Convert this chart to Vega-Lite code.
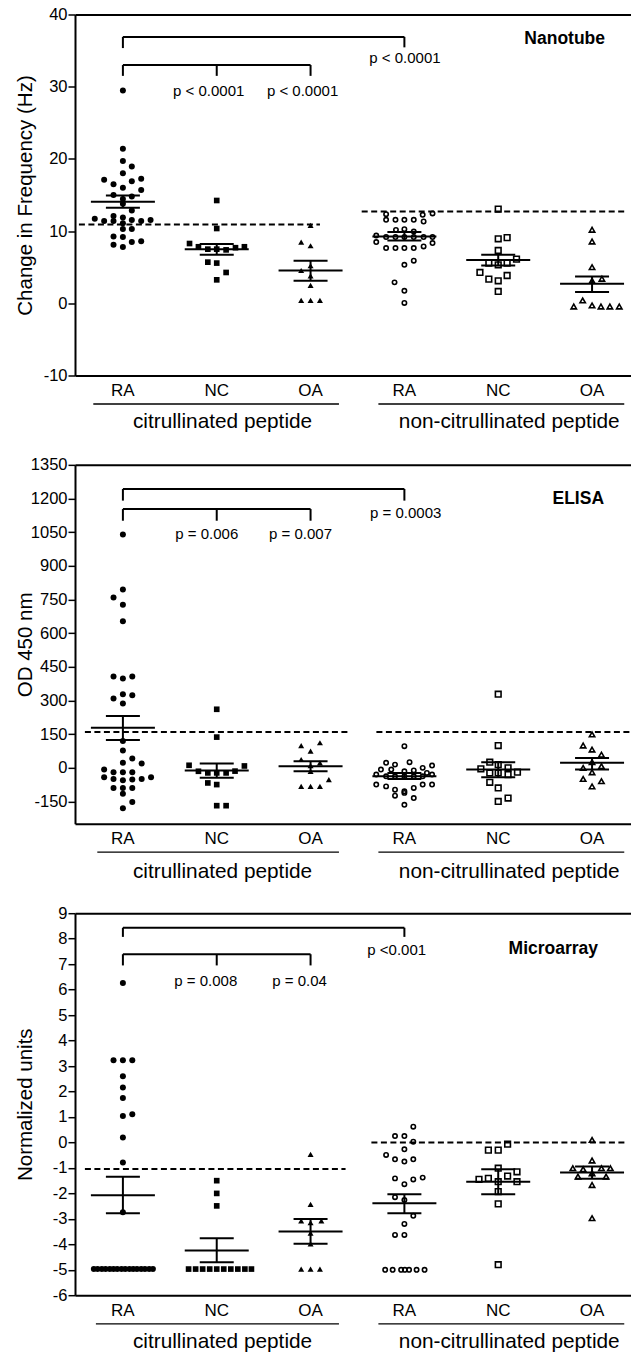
{
"$schema": "https://vega.github.io/schema/vega-lite/v6.json",
"background": "white",
"padding": {"left": 15, "top": 6.5, "right": 0, "bottom": 0},
"spacing": 89.35,
"bounds": "flush",
"config": {
  "font": "Liberation Sans",
  "view": {"stroke": null},
  "axis": {"grid": false, "domainColor": "black", "domainWidth": 2, "tickColor": "black", "tickWidth": 1.5, "tickSize": 7, "labelColor": "black", "labelFont": "Liberation Sans", "labelFontSize": 16.5, "titleColor": "black", "titleFont": "Liberation Sans", "titleFontSize": 20.5, "titleFontWeight": "normal"},
  "axisX": {"ticks": false, "labelPadding": 7, "labelFontSize": 17, "labelAngle": 0},
  "text": {"font": "Liberation Sans", "color": "black"}
},
"datasets": {
"pts": [
{"p":1,"g":"cRA","v":29.47,"j":0},{"p":1,"g":"cRA","v":21.4,"j":0},{"p":1,"g":"cRA","v":19.7,"j":0},{"p":1,"g":"cRA","v":18.95,"j":0.19},{"p":1,"g":"cRA","v":18.0,"j":0},{"p":1,"g":"cRA","v":17.1,"j":-0.4},{"p":1,"g":"cRA","v":16.5,"j":-0.2},{"p":1,"g":"cRA","v":16.9,"j":0.19},{"p":1,"g":"cRA","v":17.25,"j":0.39},{"p":1,"g":"cRA","v":16.0,"j":0},{"p":1,"g":"cRA","v":15.7,"j":0.39},{"p":1,"g":"cRA","v":15.0,"j":-0.2},{"p":1,"g":"cRA","v":14.8,"j":0.19},{"p":1,"g":"cRA","v":14.45,"j":0},{"p":1,"g":"cRA","v":13.8,"j":0},{"p":1,"g":"cRA","v":12.85,"j":0.19},{"p":1,"g":"cRA","v":12.1,"j":-0.2},{"p":1,"g":"cRA","v":11.9,"j":0},{"p":1,"g":"cRA","v":11.7,"j":-0.6},{"p":1,"g":"cRA","v":11.4,"j":-0.4},{"p":1,"g":"cRA","v":11.4,"j":-0.2},{"p":1,"g":"cRA","v":11.55,"j":0.19},{"p":1,"g":"cRA","v":11.4,"j":0.39},{"p":1,"g":"cRA","v":11.55,"j":0.59},{"p":1,"g":"cRA","v":11.1,"j":0},{"p":1,"g":"cRA","v":10.3,"j":0.19},{"p":1,"g":"cRA","v":10.3,"j":0},{"p":1,"g":"cRA","v":9.25,"j":-0.2},{"p":1,"g":"cRA","v":9.2,"j":0},{"p":1,"g":"cRA","v":8.5,"j":0.19},{"p":1,"g":"cRA","v":8.6,"j":0.39},{"p":1,"g":"cRA","v":8.1,"j":-0.2},{"p":1,"g":"cRA","v":7.8,"j":0},
{"p":1,"g":"cNC","v":14.24,"j":0},{"p":1,"g":"cNC","v":10.36,"j":0},{"p":1,"g":"cNC","v":8.28,"j":-0.58},{"p":1,"g":"cNC","v":7.83,"j":-0.39},{"p":1,"g":"cNC","v":7.5,"j":-0.19},{"p":1,"g":"cNC","v":7.5,"j":0},{"p":1,"g":"cNC","v":7.4,"j":0.2},{"p":1,"g":"cNC","v":7.7,"j":0.4},{"p":1,"g":"cNC","v":7.83,"j":0.59},{"p":1,"g":"cNC","v":5.7,"j":-0.19},{"p":1,"g":"cNC","v":5.57,"j":0},{"p":1,"g":"cNC","v":4.27,"j":0.2},{"p":1,"g":"cNC","v":3.25,"j":0},
{"p":1,"g":"cOA","v":10.78,"j":0},{"p":1,"g":"cOA","v":8.48,"j":-0.2},{"p":1,"g":"cOA","v":7.97,"j":0},{"p":1,"g":"cOA","v":5.2,"j":0},{"p":1,"g":"cOA","v":4.54,"j":-0.2},{"p":1,"g":"cOA","v":3.8,"j":0},{"p":1,"g":"cOA","v":2.47,"j":0},{"p":1,"g":"cOA","v":0.4,"j":-0.2},{"p":1,"g":"cOA","v":0.4,"j":0},{"p":1,"g":"cOA","v":0.4,"j":0.2},
{"p":1,"g":"nRA","v":12.35,"j":-0.39},{"p":1,"g":"nRA","v":12.44,"j":0.6},{"p":1,"g":"nRA","v":12.26,"j":0.39},{"p":1,"g":"nRA","v":11.56,"j":-0.39},{"p":1,"g":"nRA","v":11.56,"j":-0.19},{"p":1,"g":"nRA","v":11.56,"j":0},{"p":1,"g":"nRA","v":11.56,"j":0.2},{"p":1,"g":"nRA","v":11.33,"j":0.41},{"p":1,"g":"nRA","v":10.17,"j":-0.18},{"p":1,"g":"nRA","v":10.27,"j":0},{"p":1,"g":"nRA","v":9.94,"j":0.2},{"p":1,"g":"nRA","v":9.39,"j":-0.6},{"p":1,"g":"nRA","v":9.17,"j":-0.39},{"p":1,"g":"nRA","v":9.17,"j":-0.19},{"p":1,"g":"nRA","v":9.17,"j":0},{"p":1,"g":"nRA","v":9.17,"j":0.2},{"p":1,"g":"nRA","v":9.17,"j":0.41},{"p":1,"g":"nRA","v":9.17,"j":0.6},{"p":1,"g":"nRA","v":8.48,"j":-0.6},{"p":1,"g":"nRA","v":7.65,"j":-0.39},{"p":1,"g":"nRA","v":7.65,"j":-0.19},{"p":1,"g":"nRA","v":7.65,"j":0},{"p":1,"g":"nRA","v":7.65,"j":0.2},{"p":1,"g":"nRA","v":7.87,"j":0.41},{"p":1,"g":"nRA","v":8.34,"j":0.6},{"p":1,"g":"nRA","v":5.9,"j":0.2},{"p":1,"g":"nRA","v":5.33,"j":0},{"p":1,"g":"nRA","v":2.9,"j":-0.21},{"p":1,"g":"nRA","v":1.73,"j":0},{"p":1,"g":"nRA","v":0.05,"j":0},
{"p":1,"g":"nNC","v":13.05,"j":0},{"p":1,"g":"nNC","v":8.93,"j":0},{"p":1,"g":"nNC","v":9.1,"j":0.19},{"p":1,"g":"nNC","v":7.32,"j":0},{"p":1,"g":"nNC","v":6.12,"j":0.39},{"p":1,"g":"nNC","v":5.57,"j":-0.2},{"p":1,"g":"nNC","v":5.33,"j":0},{"p":1,"g":"nNC","v":5.57,"j":0.19},{"p":1,"g":"nNC","v":4.27,"j":-0.39},{"p":1,"g":"nNC","v":3.35,"j":-0.2},{"p":1,"g":"nNC","v":3.12,"j":0},{"p":1,"g":"nNC","v":3.85,"j":0.19},{"p":1,"g":"nNC","v":1.64,"j":0},
{"p":1,"g":"nOA","v":10.18,"j":0},{"p":1,"g":"nOA","v":8.56,"j":0},{"p":1,"g":"nOA","v":5.01,"j":0},{"p":1,"g":"nOA","v":3.4,"j":0.21},{"p":1,"g":"nOA","v":3.12,"j":0},{"p":1,"g":"nOA","v":-0.45,"j":-0.39},{"p":1,"g":"nOA","v":0.4,"j":-0.2},{"p":1,"g":"nOA","v":-0.3,"j":0},{"p":1,"g":"nOA","v":-0.45,"j":0.19},{"p":1,"g":"nOA","v":-0.45,"j":0.38},{"p":1,"g":"nOA","v":-0.45,"j":0.58},
{"p":2,"g":"cRA","v":1039.7,"j":0},{"p":2,"g":"cRA","v":794.8,"j":0},{"p":2,"g":"cRA","v":759,"j":-0.2},{"p":2,"g":"cRA","v":726,"j":0},{"p":2,"g":"cRA","v":653,"j":0},{"p":2,"g":"cRA","v":407,"j":-0.2},{"p":2,"g":"cRA","v":398,"j":0},{"p":2,"g":"cRA","v":407,"j":0.2},{"p":2,"g":"cRA","v":308.5,"j":-0.2},{"p":2,"g":"cRA","v":286,"j":0},{"p":2,"g":"cRA","v":327.8,"j":0},{"p":2,"g":"cRA","v":323,"j":0.2},{"p":2,"g":"cRA","v":118.7,"j":0},{"p":2,"g":"cRA","v":77,"j":0},{"p":2,"g":"cRA","v":41,"j":0.2},{"p":2,"g":"cRA","v":22,"j":0},{"p":2,"g":"cRA","v":19,"j":0.4},{"p":2,"g":"cRA","v":-8,"j":-0.4},{"p":2,"g":"cRA","v":-20,"j":-0.2},{"p":2,"g":"cRA","v":-20,"j":0},{"p":2,"g":"cRA","v":-20,"j":0.2},{"p":2,"g":"cRA","v":-42.5,"j":-0.4},{"p":2,"g":"cRA","v":-50,"j":-0.2},{"p":2,"g":"cRA","v":-56,"j":0},{"p":2,"g":"cRA","v":-52,"j":0.2},{"p":2,"g":"cRA","v":-50,"j":0.4},{"p":2,"g":"cRA","v":-42.5,"j":0.6},{"p":2,"g":"cRA","v":-90,"j":-0.2},{"p":2,"g":"cRA","v":-90,"j":0},{"p":2,"g":"cRA","v":-90,"j":0.2},{"p":2,"g":"cRA","v":-115.6,"j":0},{"p":2,"g":"cRA","v":-153,"j":0.2},{"p":2,"g":"cRA","v":-180,"j":0},
{"p":2,"g":"cNC","v":260.6,"j":0},{"p":2,"g":"cNC","v":136.6,"j":0},{"p":2,"g":"cNC","v":11,"j":-0.59},{"p":2,"g":"cNC","v":-15.7,"j":-0.39},{"p":2,"g":"cNC","v":-23,"j":-0.19},{"p":2,"g":"cNC","v":-23,"j":0},{"p":2,"g":"cNC","v":-23,"j":0.2},{"p":2,"g":"cNC","v":-15,"j":0.39},{"p":2,"g":"cNC","v":8,"j":0.59},{"p":2,"g":"cNC","v":-67.7,"j":-0.19},{"p":2,"g":"cNC","v":-75,"j":0},{"p":2,"g":"cNC","v":-169,"j":0},{"p":2,"g":"cNC","v":-169,"j":0.2},
{"p":2,"g":"cOA","v":111.4,"j":0.2},{"p":2,"g":"cOA","v":73.8,"j":0},{"p":2,"g":"cOA","v":99,"j":-0.2},{"p":2,"g":"cOA","v":36.7,"j":-0.2},{"p":2,"g":"cOA","v":9.8,"j":0},{"p":2,"g":"cOA","v":22,"j":0.2},{"p":2,"g":"cOA","v":-15.8,"j":0},{"p":2,"g":"cOA","v":-53,"j":0.39},{"p":2,"g":"cOA","v":-83,"j":-0.2},{"p":2,"g":"cOA","v":-83,"j":0},{"p":2,"g":"cOA","v":-83,"j":0.2},
{"p":2,"g":"nRA","v":96,"j":0},{"p":2,"g":"nRA","v":22,"j":-0.39},{"p":2,"g":"nRA","v":14,"j":-0.2},{"p":2,"g":"nRA","v":24.6,"j":0.11},{"p":2,"g":"nRA","v":-0.5,"j":0.39},{"p":2,"g":"nRA","v":10,"j":0.59},{"p":2,"g":"nRA","v":-8,"j":-0.5},{"p":2,"g":"nRA","v":-8,"j":-0.28},{"p":2,"g":"nRA","v":-15.7,"j":0},{"p":2,"g":"nRA","v":-12,"j":0.2},{"p":2,"g":"nRA","v":-23,"j":0.48},{"p":2,"g":"nRA","v":-30.5,"j":-0.6},{"p":2,"g":"nRA","v":-38,"j":-0.39},{"p":2,"g":"nRA","v":-38,"j":-0.2},{"p":2,"g":"nRA","v":-38,"j":0},{"p":2,"g":"nRA","v":-38,"j":0.2},{"p":2,"g":"nRA","v":-38,"j":0.39},{"p":2,"g":"nRA","v":-30.5,"j":0.59},{"p":2,"g":"nRA","v":-75,"j":-0.6},{"p":2,"g":"nRA","v":-83,"j":-0.39},{"p":2,"g":"nRA","v":-98,"j":-0.2},{"p":2,"g":"nRA","v":-105,"j":0},{"p":2,"g":"nRA","v":-90,"j":0.2},{"p":2,"g":"nRA","v":-75,"j":0.39},{"p":2,"g":"nRA","v":-75,"j":0.59},{"p":2,"g":"nRA","v":-124.5,"j":-0.2},{"p":2,"g":"nRA","v":-112,"j":0},{"p":2,"g":"nRA","v":-135,"j":0.2},{"p":2,"g":"nRA","v":-165,"j":0},
{"p":2,"g":"nNC","v":327.8,"j":0},{"p":2,"g":"nNC","v":99,"j":0},{"p":2,"g":"nNC","v":24.6,"j":-0.18},{"p":2,"g":"nNC","v":-5,"j":-0.37},{"p":2,"g":"nNC","v":14,"j":0},{"p":2,"g":"nNC","v":-0.5,"j":0.21},{"p":2,"g":"nNC","v":-23,"j":-0.18},{"p":2,"g":"nNC","v":-23,"j":0},{"p":2,"g":"nNC","v":-30.5,"j":0.21},{"p":2,"g":"nNC","v":-20,"j":0.41},{"p":2,"g":"nNC","v":-65,"j":-0.18},{"p":2,"g":"nNC","v":-90,"j":0},{"p":2,"g":"nNC","v":-150,"j":0},{"p":2,"g":"nNC","v":-135,"j":0.21},
{"p":2,"g":"nOA","v":148.6,"j":0},{"p":2,"g":"nOA","v":99,"j":-0.19},{"p":2,"g":"nOA","v":81,"j":0},{"p":2,"g":"nOA","v":58.6,"j":0.2},{"p":2,"g":"nOA","v":-0.5,"j":-0.19},{"p":2,"g":"nOA","v":24.6,"j":0},{"p":2,"g":"nOA","v":7,"j":0.2},{"p":2,"g":"nOA","v":-20,"j":0},{"p":2,"g":"nOA","v":-50,"j":-0.19},{"p":2,"g":"nOA","v":-60,"j":0.2},{"p":2,"g":"nOA","v":-83,"j":0},
{"p":3,"g":"cRA","v":6.26,"j":0},{"p":3,"g":"cRA","v":3.23,"j":-0.2},{"p":3,"g":"cRA","v":3.23,"j":0},{"p":3,"g":"cRA","v":3.23,"j":0.2},{"p":3,"g":"cRA","v":2.6,"j":0},{"p":3,"g":"cRA","v":2.16,"j":0},{"p":3,"g":"cRA","v":1.75,"j":0},{"p":3,"g":"cRA","v":1.04,"j":0},{"p":3,"g":"cRA","v":1.11,"j":0.2},{"p":3,"g":"cRA","v":0.19,"j":0},{"p":3,"g":"cRA","v":-0.79,"j":0},{"p":3,"g":"cRA","v":-2.74,"j":0},
{"p":3,"g":"cRA","v":-4.97,"j":-0.62},{"p":3,"g":"cRA","v":-4.97,"j":-0.54},{"p":3,"g":"cRA","v":-4.97,"j":-0.45},{"p":3,"g":"cRA","v":-4.97,"j":-0.37},{"p":3,"g":"cRA","v":-4.97,"j":-0.28},{"p":3,"g":"cRA","v":-4.97,"j":-0.2},{"p":3,"g":"cRA","v":-4.97,"j":-0.12},{"p":3,"g":"cRA","v":-4.97,"j":-0.03},{"p":3,"g":"cRA","v":-4.97,"j":0.05},{"p":3,"g":"cRA","v":-4.97,"j":0.14},{"p":3,"g":"cRA","v":-4.97,"j":0.22},{"p":3,"g":"cRA","v":-4.97,"j":0.3},{"p":3,"g":"cRA","v":-4.97,"j":0.39},{"p":3,"g":"cRA","v":-4.97,"j":0.47},{"p":3,"g":"cRA","v":-4.97,"j":0.56},{"p":3,"g":"cRA","v":-4.97,"j":0.64},
{"p":3,"g":"cNC","v":-1.5,"j":0},{"p":3,"g":"cNC","v":-2.0,"j":0},{"p":3,"g":"cNC","v":-2.49,"j":0},
{"p":3,"g":"cNC","v":-4.97,"j":-0.6},{"p":3,"g":"cNC","v":-4.97,"j":-0.45},{"p":3,"g":"cNC","v":-4.97,"j":-0.3},{"p":3,"g":"cNC","v":-4.97,"j":-0.15},{"p":3,"g":"cNC","v":-4.97,"j":0},{"p":3,"g":"cNC","v":-4.97,"j":0.15},{"p":3,"g":"cNC","v":-4.97,"j":0.3},{"p":3,"g":"cNC","v":-4.97,"j":0.45},{"p":3,"g":"cNC","v":-4.97,"j":0.6},{"p":3,"g":"cNC","v":-4.97,"j":0.74},
{"p":3,"g":"cOA","v":-0.47,"j":0},{"p":3,"g":"cOA","v":-2.43,"j":0},{"p":3,"g":"cOA","v":-3.08,"j":-0.2},{"p":3,"g":"cOA","v":-3.15,"j":0},{"p":3,"g":"cOA","v":-3.08,"j":0.23},{"p":3,"g":"cOA","v":-3.56,"j":0},{"p":3,"g":"cOA","v":-3.98,"j":0},{"p":3,"g":"cOA","v":-4.97,"j":-0.2},{"p":3,"g":"cOA","v":-4.97,"j":0},{"p":3,"g":"cOA","v":-4.97,"j":0.2},
{"p":3,"g":"nRA","v":0.62,"j":0.19},{"p":3,"g":"nRA","v":0.25,"j":-0.2},{"p":3,"g":"nRA","v":0.25,"j":0},{"p":3,"g":"nRA","v":0.03,"j":0.19},{"p":3,"g":"nRA","v":-0.27,"j":0},{"p":3,"g":"nRA","v":-0.49,"j":-0.39},{"p":3,"g":"nRA","v":-0.66,"j":-0.2},{"p":3,"g":"nRA","v":-0.75,"j":0},{"p":3,"g":"nRA","v":-0.66,"j":0.19},{"p":3,"g":"nRA","v":-1.41,"j":-0.2},{"p":3,"g":"nRA","v":-1.64,"j":0},{"p":3,"g":"nRA","v":-1.45,"j":0.19},{"p":3,"g":"nRA","v":-1.38,"j":0.39},{"p":3,"g":"nRA","v":-2.15,"j":-0.2},{"p":3,"g":"nRA","v":-2.26,"j":0},{"p":3,"g":"nRA","v":-2.88,"j":0.19},{"p":3,"g":"nRA","v":-3.2,"j":0},{"p":3,"g":"nRA","v":-3.63,"j":-0.2},{"p":3,"g":"nRA","v":-3.63,"j":0},
{"p":3,"g":"nRA","v":-5,"j":-0.41},{"p":3,"g":"nRA","v":-5,"j":-0.25},{"p":3,"g":"nRA","v":-5,"j":-0.07},{"p":3,"g":"nRA","v":-5,"j":0.01},{"p":3,"g":"nRA","v":-5,"j":0.1},{"p":3,"g":"nRA","v":-5,"j":0.26},{"p":3,"g":"nRA","v":-5,"j":0.43},
{"p":3,"g":"nNC","v":-0.07,"j":0.2},{"p":3,"g":"nNC","v":-0.3,"j":-0.21},{"p":3,"g":"nNC","v":-0.3,"j":0},{"p":3,"g":"nNC","v":-1.01,"j":0},{"p":3,"g":"nNC","v":-1.15,"j":0.4},{"p":3,"g":"nNC","v":-1.45,"j":-0.41},{"p":3,"g":"nNC","v":-1.41,"j":-0.21},{"p":3,"g":"nNC","v":-1.32,"j":0.2},{"p":3,"g":"nNC","v":-1.54,"j":0.4},{"p":3,"g":"nNC","v":-1.54,"j":0},{"p":3,"g":"nNC","v":-1.93,"j":0},{"p":3,"g":"nNC","v":-2.41,"j":0},{"p":3,"g":"nNC","v":-4.8,"j":0},
{"p":3,"g":"nOA","v":0.1,"j":0},{"p":3,"g":"nOA","v":-0.71,"j":0},{"p":3,"g":"nOA","v":-1.01,"j":-0.41},{"p":3,"g":"nOA","v":-1.05,"j":-0.19},{"p":3,"g":"nOA","v":-1.01,"j":0.2},{"p":3,"g":"nOA","v":-1.01,"j":0.39},{"p":3,"g":"nOA","v":-1.21,"j":0},{"p":3,"g":"nOA","v":-1.34,"j":-0.3},{"p":3,"g":"nOA","v":-1.34,"j":0.3},{"p":3,"g":"nOA","v":-1.67,"j":0},{"p":3,"g":"nOA","v":-2.97,"j":0}
],
"stats": [
{"p":1,"g":"cRA","m":14.05,"lo":13.23,"hi":14.93},{"p":1,"g":"cNC","m":7.5,"lo":6.72,"hi":8.2},{"p":1,"g":"cOA","m":4.55,"lo":3.12,"hi":5.89},{"p":1,"g":"nRA","m":9.25,"lo":8.7,"hi":9.86},{"p":1,"g":"nNC","m":6.0,"lo":5.24,"hi":6.72},{"p":1,"g":"nOA","m":2.7,"lo":1.55,"hi":3.72},
{"p":2,"g":"cRA","m":178.4,"lo":123.3,"hi":230.6},{"p":2,"g":"cNC","m":-12.6,"lo":-45,"hi":18.6},{"p":2,"g":"cOA","m":6.7,"lo":-15.7,"hi":29},{"p":2,"g":"nRA","m":-38,"lo":-50,"hi":-23},{"p":2,"g":"nNC","m":-8,"lo":-42.5,"hi":24.6},{"p":2,"g":"nOA","m":22,"lo":-8,"hi":44},
{"p":3,"g":"cRA","m":-2.07,"lo":-2.78,"hi":-1.35},{"p":3,"g":"cNC","m":-4.24,"lo":-4.7,"hi":-3.76},{"p":3,"g":"cOA","m":-3.5,"lo":-3.98,"hi":-3.0},{"p":3,"g":"nRA","m":-2.39,"lo":-2.78,"hi":-2.03},{"p":3,"g":"nNC","m":-1.54,"lo":-2.03,"hi":-1.05},{"p":3,"g":"nOA","m":-1.18,"lo":-1.42,"hi":-0.94}
],
"hbr": [
{"p":1,"a":"cRA","b":"nRA","y":36.9},{"p":1,"a":"cRA","b":"cOA","y":33.0},
{"p":2,"a":"cRA","b":"nRA","y":1242.5},{"p":2,"a":"cRA","b":"cOA","y":1153},
{"p":3,"a":"cRA","b":"nRA","y":8.43},{"p":3,"a":"cRA","b":"cOA","y":7.39}
],
"vbr": [
{"p":1,"g":"cRA","y1":35.35,"y2":36.9},{"p":1,"g":"nRA","y1":35.45,"y2":36.9},{"p":1,"g":"cRA","y1":31.5,"y2":33.0},{"p":1,"g":"cNC","y1":31.5,"y2":33.0},{"p":1,"g":"cOA","y1":31.5,"y2":33.0},
{"p":2,"g":"cRA","y1":1190.6,"y2":1242.5},{"p":2,"g":"nRA","y1":1190.6,"y2":1242.5},{"p":2,"g":"cRA","y1":1101,"y2":1153},{"p":2,"g":"cNC","y1":1101,"y2":1153},{"p":2,"g":"cOA","y1":1101,"y2":1153},
{"p":3,"g":"cRA","y1":8.07,"y2":8.43},{"p":3,"g":"nRA","y1":8.07,"y2":8.43},{"p":3,"g":"cRA","y1":6.95,"y2":7.39},{"p":3,"g":"cNC","y1":6.95,"y2":7.39},{"p":3,"g":"cOA","y1":6.95,"y2":7.39}
],
"ptxt": [
{"p":1,"g":"cNC","y":29.47,"t":"p < 0.0001"},{"p":1,"g":"cOA","y":29.47,"t":"p < 0.0001"},{"p":1,"g":"nRA","y":33.96,"t":"p < 0.0001"},
{"p":2,"g":"cNC","y":1044,"t":"p = 0.006"},{"p":2,"g":"cOA","y":1044,"t":"p = 0.007"},{"p":2,"g":"nRA","y":1133.7,"t":"p = 0.0003"},
{"p":3,"g":"cNC","y":6.34,"t":"p = 0.008"},{"p":3,"g":"cOA","y":6.34,"t":"p = 0.04"},{"p":3,"g":"nRA","y":7.54,"t":"p <0.001"}
]
},
"vconcat": [
{
"width": 556, "height": 361,
"resolve": {"axis": {"x": "independent", "y": "independent"}},
"layer": [
{"data": {"name": "pts"}, "transform": [{"filter": "datum.p==1"}],
 "mark": {"type": "point", "filled": true, "stroke": "black", "opacity": 1},
 "encoding": {
  "x": {"field": "g", "type": "nominal", "scale": {"domain":["cRA","cNC","cOA","nRA","nNC","nOA"],"paddingInner":0.1698,"paddingOuter":0.0477,"align":1}, "axis": {"orient": "bottom", "title": null, "labelExpr": "substring(datum.label,1)"}},
  "xOffset": {"field": "j", "type": "quantitative", "scale": {"domain": [-1, 1], "range": [-7.95, 85.85]}},
  "y": {"field": "v", "type": "quantitative", "scale": {"domain": [-10, 40], "nice": false, "zero": false}, "axis": {"title": "Change in Frequency (Hz)", "values": [-10,0,10,20,30,40], "labelExpr": "''+datum.value", "labelPadding": 1, "titleX": -50, "titleBaseline": "middle"}},
  "shape": {"field": "g", "type": "nominal", "scale": {"domain":["cRA","cNC","cOA","nRA","nNC","nOA"], "range": ["circle","square","triangle-up","circle","square","triangle-up"]}, "legend": null},
  "fill": {"field": "g", "type": "nominal", "scale": {"domain":["cRA","cNC","cOA","nRA","nNC","nOA"], "range": ["black","black","black","transparent","transparent","transparent"]}, "legend": null},
  "size": {"field": "g", "type": "nominal", "scale": {"type": "ordinal", "domain":["cRA","cNC","cOA","nRA","nNC","nOA"], "range": [36,32,36,19,32,29]}, "legend": null},
  "strokeWidth": {"field": "g", "type": "nominal", "scale": {"type": "ordinal", "domain":["cRA","cNC","cOA","nRA","nNC","nOA"], "range": [0,0,0,1.6,1.6,1.6]}, "legend": null}
 }},
{"data": {"name": "stats"}, "transform": [{"filter": "datum.p==1"}],
 "mark": {"type": "tick", "color": "black", "size": 64, "thickness": 2, "opacity": 1},
 "encoding": {"x": {"field": "g", "type": "nominal", "scale": {"domain":["cRA","cNC","cOA","nRA","nNC","nOA"],"paddingInner":0.1698,"paddingOuter":0.0477,"align":1}, "axis": null},
  "y": {"field": "m", "type": "quantitative", "scale": {"domain": [-10, 40], "nice": false, "zero": false}, "axis": null}}},
{"data": {"name": "stats"}, "transform": [{"filter": "datum.p==1"}],
 "mark": {"type": "tick", "color": "black", "size": 34, "thickness": 2, "opacity": 1},
 "encoding": {"x": {"field": "g", "type": "nominal", "scale": {"domain":["cRA","cNC","cOA","nRA","nNC","nOA"],"paddingInner":0.1698,"paddingOuter":0.0477,"align":1}, "axis": null},
  "y": {"field": "lo", "type": "quantitative", "scale": {"domain": [-10, 40], "nice": false, "zero": false}, "axis": null}}},
{"data": {"name": "stats"}, "transform": [{"filter": "datum.p==1"}],
 "mark": {"type": "tick", "color": "black", "size": 34, "thickness": 2, "opacity": 1},
 "encoding": {"x": {"field": "g", "type": "nominal", "scale": {"domain":["cRA","cNC","cOA","nRA","nNC","nOA"],"paddingInner":0.1698,"paddingOuter":0.0477,"align":1}, "axis": null},
  "y": {"field": "hi", "type": "quantitative", "scale": {"domain": [-10, 40], "nice": false, "zero": false}, "axis": null}}},
{"data": {"name": "stats"}, "transform": [{"filter": "datum.p==1"}],
 "mark": {"type": "rule", "color": "black", "strokeWidth": 2},
 "encoding": {"x": {"field": "g", "type": "nominal", "scale": {"domain":["cRA","cNC","cOA","nRA","nNC","nOA"],"paddingInner":0.1698,"paddingOuter":0.0477,"align":1}, "axis": null},
  "y": {"field": "lo", "type": "quantitative", "scale": {"domain": [-10, 40], "nice": false, "zero": false}, "axis": null}, "y2": {"field": "hi"}}},
{"data": {"values": [{}]},
 "mark": {"type": "rule", "color": "black", "strokeWidth": 2, "strokeDash": [6, 3.5], "xOffset": -44, "x2Offset": 9.4},
 "encoding": {"x": {"datum": "cRA", "type": "nominal", "scale": {"domain":["cRA","cNC","cOA","nRA","nNC","nOA"],"paddingInner":0.1698,"paddingOuter":0.0477,"align":1}, "axis": null}, "x2": {"datum": "cOA"},
  "y": {"datum": 10.9, "type": "quantitative", "scale": {"domain": [-10, 40], "nice": false, "zero": false}, "axis": null}}},
{"data": {"values": [{}]},
 "mark": {"type": "rule", "color": "black", "strokeWidth": 2, "strokeDash": [6, 3.5], "xOffset": -42.7, "x2Offset": 34},
 "encoding": {"x": {"datum": "nRA", "type": "nominal", "scale": {"domain":["cRA","cNC","cOA","nRA","nNC","nOA"],"paddingInner":0.1698,"paddingOuter":0.0477,"align":1}, "axis": null}, "x2": {"datum": "nOA"},
  "y": {"datum": 12.72, "type": "quantitative", "scale": {"domain": [-10, 40], "nice": false, "zero": false}, "axis": null}}},
{"data": {"name": "hbr"}, "transform": [{"filter": "datum.p==1"}],
 "mark": {"type": "rule", "color": "black", "strokeWidth": 2},
 "encoding": {"x": {"field": "a", "type": "nominal", "scale": {"domain":["cRA","cNC","cOA","nRA","nNC","nOA"],"paddingInner":0.1698,"paddingOuter":0.0477,"align":1}, "axis": {"orient": "top", "labels": false, "ticks": false, "title": null, "domain": true}}, "x2": {"field": "b"},
  "y": {"field": "y", "type": "quantitative", "scale": {"domain": [-10, 40], "nice": false, "zero": false}, "axis": null}}},
{"data": {"name": "vbr"}, "transform": [{"filter": "datum.p==1"}],
 "mark": {"type": "rule", "color": "black", "strokeWidth": 2},
 "encoding": {"x": {"field": "g", "type": "nominal", "scale": {"domain":["cRA","cNC","cOA","nRA","nNC","nOA"],"paddingInner":0.1698,"paddingOuter":0.0477,"align":1}, "axis": null},
  "y": {"field": "y1", "type": "quantitative", "scale": {"domain": [-10, 40], "nice": false, "zero": false}, "axis": null}, "y2": {"field": "y2"}}},
{"data": {"name": "ptxt"}, "transform": [{"filter": "datum.p==1 && datum.g!='nRA'"}],
 "mark": {"type": "text", "fontSize": 15, "dx": -8, "baseline": "middle", "color": "black"},
 "encoding": {"x": {"field": "g", "type": "nominal", "scale": {"domain":["cRA","cNC","cOA","nRA","nNC","nOA"],"paddingInner":0.1698,"paddingOuter":0.0477,"align":1}, "axis": null},
  "y": {"field": "y", "type": "quantitative", "scale": {"domain": [-10, 40], "nice": false, "zero": false}, "axis": null}, "text": {"field": "t"}}},
{"data": {"name": "ptxt"}, "transform": [{"filter": "datum.p==1 && datum.g=='nRA'"}],
 "mark": {"type": "text", "fontSize": 15, "dx": 0.6, "baseline": "middle", "color": "black"},
 "encoding": {"x": {"field": "g", "type": "nominal", "scale": {"domain":["cRA","cNC","cOA","nRA","nNC","nOA"],"paddingInner":0.1698,"paddingOuter":0.0477,"align":1}, "axis": null},
  "y": {"field": "y", "type": "quantitative", "scale": {"domain": [-10, 40], "nice": false, "zero": false}, "axis": null}, "text": {"field": "t"}}},
{"data": {"values": [{}]},
 "mark": {"type": "text", "text": "Nanotube", "fontSize": 17.5, "fontWeight": "bold", "align": "right", "baseline": "middle", "dx": 13, "color": "black"},
 "encoding": {"x": {"datum": "nOA", "type": "nominal", "scale": {"domain":["cRA","cNC","cOA","nRA","nNC","nOA"],"paddingInner":0.1698,"paddingOuter":0.0477,"align":1}, "axis": null},
  "y": {"datum": 36.6, "type": "quantitative", "scale": {"domain": [-10, 40], "nice": false, "zero": false}, "axis": null}}},
{"data": {"values": [{}]},
 "mark": {"type": "rule", "color": "black", "strokeWidth": 1.3, "yOffset": 28.5, "xOffset": -29.6, "x2Offset": 28.4},
 "encoding": {"x": {"datum": "cRA", "type": "nominal", "scale": {"domain":["cRA","cNC","cOA","nRA","nNC","nOA"],"paddingInner":0.1698,"paddingOuter":0.0477,"align":1}, "axis": null}, "x2": {"datum": "cOA"},
  "y": {"datum": -10, "type": "quantitative", "scale": {"domain": [-10, 40], "nice": false, "zero": false}, "axis": null}}},
{"data": {"values": [{}]},
 "mark": {"type": "rule", "color": "black", "strokeWidth": 1.3, "yOffset": 28.5, "xOffset": -26, "x2Offset": 32.2},
 "encoding": {"x": {"datum": "nRA", "type": "nominal", "scale": {"domain":["cRA","cNC","cOA","nRA","nNC","nOA"],"paddingInner":0.1698,"paddingOuter":0.0477,"align":1}, "axis": null}, "x2": {"datum": "nOA"},
  "y": {"datum": -10, "type": "quantitative", "scale": {"domain": [-10, 40], "nice": false, "zero": false}, "axis": null}}},
{"data": {"values": [{}]},
 "mark": {"type": "text", "text": "citrullinated peptide", "fontSize": 20.8, "baseline": "middle", "dx": 5.8, "dy": 46, "color": "black"},
 "encoding": {"x": {"datum": "cNC", "type": "nominal", "scale": {"domain":["cRA","cNC","cOA","nRA","nNC","nOA"],"paddingInner":0.1698,"paddingOuter":0.0477,"align":1}, "axis": null},
  "y": {"datum": -10, "type": "quantitative", "scale": {"domain": [-10, 40], "nice": false, "zero": false}, "axis": null}}},
{"data": {"values": [{}]},
 "mark": {"type": "text", "text": "non-citrullinated peptide", "fontSize": 20.8, "baseline": "middle", "dx": 11, "dy": 46, "color": "black"},
 "encoding": {"x": {"datum": "nNC", "type": "nominal", "scale": {"domain":["cRA","cNC","cOA","nRA","nNC","nOA"],"paddingInner":0.1698,"paddingOuter":0.0477,"align":1}, "axis": null},
  "y": {"datum": -10, "type": "quantitative", "scale": {"domain": [-10, 40], "nice": false, "zero": false}, "axis": null}}}
]
},
{
"width": 556, "height": 359,
"resolve": {"axis": {"x": "independent", "y": "independent"}},
"layer": [
{"data": {"name": "pts"}, "transform": [{"filter": "datum.p==2"}],
 "mark": {"type": "point", "filled": true, "stroke": "black", "opacity": 1},
 "encoding": {
  "x": {"field": "g", "type": "nominal", "scale": {"domain":["cRA","cNC","cOA","nRA","nNC","nOA"],"paddingInner":0.1698,"paddingOuter":0.0477,"align":1}, "axis": {"orient": "bottom", "title": null, "labelExpr": "substring(datum.label,1)"}},
  "xOffset": {"field": "j", "type": "quantitative", "scale": {"domain": [-1, 1], "range": [-7.95, 85.85]}},
  "y": {"field": "v", "type": "quantitative", "scale": {"domain": [-250, 1350], "nice": false, "zero": false}, "axis": {"title": "OD 450 nm", "values": [-150,0,150,300,450,600,750,900,1050,1200,1350], "labelExpr": "''+datum.value", "labelPadding": 1, "titleX": -50, "titleBaseline": "middle"}},
  "shape": {"field": "g", "type": "nominal", "scale": {"domain":["cRA","cNC","cOA","nRA","nNC","nOA"], "range": ["circle","square","triangle-up","circle","square","triangle-up"]}, "legend": null},
  "fill": {"field": "g", "type": "nominal", "scale": {"domain":["cRA","cNC","cOA","nRA","nNC","nOA"], "range": ["black","black","black","transparent","transparent","transparent"]}, "legend": null},
  "size": {"field": "g", "type": "nominal", "scale": {"type": "ordinal", "domain":["cRA","cNC","cOA","nRA","nNC","nOA"], "range": [36,32,36,19,32,29]}, "legend": null},
  "strokeWidth": {"field": "g", "type": "nominal", "scale": {"type": "ordinal", "domain":["cRA","cNC","cOA","nRA","nNC","nOA"], "range": [0,0,0,1.6,1.6,1.6]}, "legend": null}
 }},
{"data": {"name": "stats"}, "transform": [{"filter": "datum.p==2"}],
 "mark": {"type": "tick", "color": "black", "size": 64, "thickness": 2, "opacity": 1},
 "encoding": {"x": {"field": "g", "type": "nominal", "scale": {"domain":["cRA","cNC","cOA","nRA","nNC","nOA"],"paddingInner":0.1698,"paddingOuter":0.0477,"align":1}, "axis": null},
  "y": {"field": "m", "type": "quantitative", "scale": {"domain": [-250, 1350], "nice": false, "zero": false}, "axis": null}}},
{"data": {"name": "stats"}, "transform": [{"filter": "datum.p==2"}],
 "mark": {"type": "tick", "color": "black", "size": 34, "thickness": 2, "opacity": 1},
 "encoding": {"x": {"field": "g", "type": "nominal", "scale": {"domain":["cRA","cNC","cOA","nRA","nNC","nOA"],"paddingInner":0.1698,"paddingOuter":0.0477,"align":1}, "axis": null},
  "y": {"field": "lo", "type": "quantitative", "scale": {"domain": [-250, 1350], "nice": false, "zero": false}, "axis": null}}},
{"data": {"name": "stats"}, "transform": [{"filter": "datum.p==2"}],
 "mark": {"type": "tick", "color": "black", "size": 34, "thickness": 2, "opacity": 1},
 "encoding": {"x": {"field": "g", "type": "nominal", "scale": {"domain":["cRA","cNC","cOA","nRA","nNC","nOA"],"paddingInner":0.1698,"paddingOuter":0.0477,"align":1}, "axis": null},
  "y": {"field": "hi", "type": "quantitative", "scale": {"domain": [-250, 1350], "nice": false, "zero": false}, "axis": null}}},
{"data": {"name": "stats"}, "transform": [{"filter": "datum.p==2"}],
 "mark": {"type": "rule", "color": "black", "strokeWidth": 2},
 "encoding": {"x": {"field": "g", "type": "nominal", "scale": {"domain":["cRA","cNC","cOA","nRA","nNC","nOA"],"paddingInner":0.1698,"paddingOuter":0.0477,"align":1}, "axis": null},
  "y": {"field": "lo", "type": "quantitative", "scale": {"domain": [-250, 1350], "nice": false, "zero": false}, "axis": null}, "y2": {"field": "hi"}}},
{"data": {"values": [{}]},
 "mark": {"type": "rule", "color": "black", "strokeWidth": 2, "strokeDash": [6, 3.5], "xOffset": -38, "x2Offset": 37.4},
 "encoding": {"x": {"datum": "cRA", "type": "nominal", "scale": {"domain":["cRA","cNC","cOA","nRA","nNC","nOA"],"paddingInner":0.1698,"paddingOuter":0.0477,"align":1}, "axis": null}, "x2": {"datum": "cOA"},
  "y": {"datum": 159, "type": "quantitative", "scale": {"domain": [-250, 1350], "nice": false, "zero": false}, "axis": null}}},
{"data": {"values": [{}]},
 "mark": {"type": "rule", "color": "black", "strokeWidth": 2, "strokeDash": [6, 3.5], "xOffset": -28, "x2Offset": 38},
 "encoding": {"x": {"datum": "nRA", "type": "nominal", "scale": {"domain":["cRA","cNC","cOA","nRA","nNC","nOA"],"paddingInner":0.1698,"paddingOuter":0.0477,"align":1}, "axis": null}, "x2": {"datum": "nOA"},
  "y": {"datum": 159, "type": "quantitative", "scale": {"domain": [-250, 1350], "nice": false, "zero": false}, "axis": null}}},
{"data": {"name": "hbr"}, "transform": [{"filter": "datum.p==2"}],
 "mark": {"type": "rule", "color": "black", "strokeWidth": 2},
 "encoding": {"x": {"field": "a", "type": "nominal", "scale": {"domain":["cRA","cNC","cOA","nRA","nNC","nOA"],"paddingInner":0.1698,"paddingOuter":0.0477,"align":1}, "axis": {"orient": "top", "labels": false, "ticks": false, "title": null, "domain": true}}, "x2": {"field": "b"},
  "y": {"field": "y", "type": "quantitative", "scale": {"domain": [-250, 1350], "nice": false, "zero": false}, "axis": null}}},
{"data": {"name": "vbr"}, "transform": [{"filter": "datum.p==2"}],
 "mark": {"type": "rule", "color": "black", "strokeWidth": 2},
 "encoding": {"x": {"field": "g", "type": "nominal", "scale": {"domain":["cRA","cNC","cOA","nRA","nNC","nOA"],"paddingInner":0.1698,"paddingOuter":0.0477,"align":1}, "axis": null},
  "y": {"field": "y1", "type": "quantitative", "scale": {"domain": [-250, 1350], "nice": false, "zero": false}, "axis": null}, "y2": {"field": "y2"}}},
{"data": {"name": "ptxt"}, "transform": [{"filter": "datum.p==2 && datum.g!='nRA'"}],
 "mark": {"type": "text", "fontSize": 15, "dx": -10, "baseline": "middle", "color": "black"},
 "encoding": {"x": {"field": "g", "type": "nominal", "scale": {"domain":["cRA","cNC","cOA","nRA","nNC","nOA"],"paddingInner":0.1698,"paddingOuter":0.0477,"align":1}, "axis": null},
  "y": {"field": "y", "type": "quantitative", "scale": {"domain": [-250, 1350], "nice": false, "zero": false}, "axis": null}, "text": {"field": "t"}}},
{"data": {"name": "ptxt"}, "transform": [{"filter": "datum.p==2 && datum.g=='nRA'"}],
 "mark": {"type": "text", "fontSize": 15, "dx": 1.3, "baseline": "middle", "color": "black"},
 "encoding": {"x": {"field": "g", "type": "nominal", "scale": {"domain":["cRA","cNC","cOA","nRA","nNC","nOA"],"paddingInner":0.1698,"paddingOuter":0.0477,"align":1}, "axis": null},
  "y": {"field": "y", "type": "quantitative", "scale": {"domain": [-250, 1350], "nice": false, "zero": false}, "axis": null}, "text": {"field": "t"}}},
{"data": {"values": [{}]},
 "mark": {"type": "text", "text": "ELISA", "fontSize": 17.5, "fontWeight": "bold", "align": "right", "baseline": "middle", "dx": 12, "color": "black"},
 "encoding": {"x": {"datum": "nOA", "type": "nominal", "scale": {"domain":["cRA","cNC","cOA","nRA","nNC","nOA"],"paddingInner":0.1698,"paddingOuter":0.0477,"align":1}, "axis": null},
  "y": {"datum": 1200, "type": "quantitative", "scale": {"domain": [-250, 1350], "nice": false, "zero": false}, "axis": null}}},
{"data": {"values": [{}]},
 "mark": {"type": "rule", "color": "black", "strokeWidth": 1.3, "yOffset": 28.3, "xOffset": -25.6, "x2Offset": 28.4},
 "encoding": {"x": {"datum": "cRA", "type": "nominal", "scale": {"domain":["cRA","cNC","cOA","nRA","nNC","nOA"],"paddingInner":0.1698,"paddingOuter":0.0477,"align":1}, "axis": null}, "x2": {"datum": "cOA"},
  "y": {"datum": -250, "type": "quantitative", "scale": {"domain": [-250, 1350], "nice": false, "zero": false}, "axis": null}}},
{"data": {"values": [{}]},
 "mark": {"type": "rule", "color": "black", "strokeWidth": 1.3, "yOffset": 28.3, "xOffset": -26, "x2Offset": 32.2},
 "encoding": {"x": {"datum": "nRA", "type": "nominal", "scale": {"domain":["cRA","cNC","cOA","nRA","nNC","nOA"],"paddingInner":0.1698,"paddingOuter":0.0477,"align":1}, "axis": null}, "x2": {"datum": "nOA"},
  "y": {"datum": -250, "type": "quantitative", "scale": {"domain": [-250, 1350], "nice": false, "zero": false}, "axis": null}}},
{"data": {"values": [{}]},
 "mark": {"type": "text", "text": "citrullinated peptide", "fontSize": 20.8, "baseline": "middle", "dx": 5.8, "dy": 47.7, "color": "black"},
 "encoding": {"x": {"datum": "cNC", "type": "nominal", "scale": {"domain":["cRA","cNC","cOA","nRA","nNC","nOA"],"paddingInner":0.1698,"paddingOuter":0.0477,"align":1}, "axis": null},
  "y": {"datum": -250, "type": "quantitative", "scale": {"domain": [-250, 1350], "nice": false, "zero": false}, "axis": null}}},
{"data": {"values": [{}]},
 "mark": {"type": "text", "text": "non-citrullinated peptide", "fontSize": 20.8, "baseline": "middle", "dx": 11, "dy": 47.7, "color": "black"},
 "encoding": {"x": {"datum": "nNC", "type": "nominal", "scale": {"domain":["cRA","cNC","cOA","nRA","nNC","nOA"],"paddingInner":0.1698,"paddingOuter":0.0477,"align":1}, "axis": null},
  "y": {"datum": -250, "type": "quantitative", "scale": {"domain": [-250, 1350], "nice": false, "zero": false}, "axis": null}}}
]
},
{
"width": 556, "height": 382.1,
"resolve": {"axis": {"x": "independent", "y": "independent"}},
"layer": [
{"data": {"name": "pts"}, "transform": [{"filter": "datum.p==3"}],
 "mark": {"type": "point", "filled": true, "stroke": "black", "opacity": 1},
 "encoding": {
  "x": {"field": "g", "type": "nominal", "scale": {"domain":["cRA","cNC","cOA","nRA","nNC","nOA"],"paddingInner":0.1698,"paddingOuter":0.0477,"align":1}, "axis": {"orient": "bottom", "title": null, "labelExpr": "substring(datum.label,1)"}},
  "xOffset": {"field": "j", "type": "quantitative", "scale": {"domain": [-1, 1], "range": [-7.95, 85.85]}},
  "y": {"field": "v", "type": "quantitative", "scale": {"domain": [-6, 9], "nice": false, "zero": false}, "axis": {"title": "Normalized units", "values": [-6,-5,-4,-3,-2,-1,0,1,2,3,4,5,6,7,8,9], "labelExpr": "''+datum.value", "labelPadding": 1, "titleX": -50, "titleBaseline": "middle"}},
  "shape": {"field": "g", "type": "nominal", "scale": {"domain":["cRA","cNC","cOA","nRA","nNC","nOA"], "range": ["circle","square","triangle-up","circle","square","triangle-up"]}, "legend": null},
  "fill": {"field": "g", "type": "nominal", "scale": {"domain":["cRA","cNC","cOA","nRA","nNC","nOA"], "range": ["black","black","black","transparent","transparent","transparent"]}, "legend": null},
  "size": {"field": "g", "type": "nominal", "scale": {"type": "ordinal", "domain":["cRA","cNC","cOA","nRA","nNC","nOA"], "range": [36,32,36,19,32,29]}, "legend": null},
  "strokeWidth": {"field": "g", "type": "nominal", "scale": {"type": "ordinal", "domain":["cRA","cNC","cOA","nRA","nNC","nOA"], "range": [0,0,0,1.6,1.6,1.6]}, "legend": null}
 }},
{"data": {"name": "stats"}, "transform": [{"filter": "datum.p==3"}],
 "mark": {"type": "tick", "color": "black", "size": 64, "thickness": 2, "opacity": 1},
 "encoding": {"x": {"field": "g", "type": "nominal", "scale": {"domain":["cRA","cNC","cOA","nRA","nNC","nOA"],"paddingInner":0.1698,"paddingOuter":0.0477,"align":1}, "axis": null},
  "y": {"field": "m", "type": "quantitative", "scale": {"domain": [-6, 9], "nice": false, "zero": false}, "axis": null}}},
{"data": {"name": "stats"}, "transform": [{"filter": "datum.p==3"}],
 "mark": {"type": "tick", "color": "black", "size": 34, "thickness": 2, "opacity": 1},
 "encoding": {"x": {"field": "g", "type": "nominal", "scale": {"domain":["cRA","cNC","cOA","nRA","nNC","nOA"],"paddingInner":0.1698,"paddingOuter":0.0477,"align":1}, "axis": null},
  "y": {"field": "lo", "type": "quantitative", "scale": {"domain": [-6, 9], "nice": false, "zero": false}, "axis": null}}},
{"data": {"name": "stats"}, "transform": [{"filter": "datum.p==3"}],
 "mark": {"type": "tick", "color": "black", "size": 34, "thickness": 2, "opacity": 1},
 "encoding": {"x": {"field": "g", "type": "nominal", "scale": {"domain":["cRA","cNC","cOA","nRA","nNC","nOA"],"paddingInner":0.1698,"paddingOuter":0.0477,"align":1}, "axis": null},
  "y": {"field": "hi", "type": "quantitative", "scale": {"domain": [-6, 9], "nice": false, "zero": false}, "axis": null}}},
{"data": {"name": "stats"}, "transform": [{"filter": "datum.p==3"}],
 "mark": {"type": "rule", "color": "black", "strokeWidth": 2},
 "encoding": {"x": {"field": "g", "type": "nominal", "scale": {"domain":["cRA","cNC","cOA","nRA","nNC","nOA"],"paddingInner":0.1698,"paddingOuter":0.0477,"align":1}, "axis": null},
  "y": {"field": "lo", "type": "quantitative", "scale": {"domain": [-6, 9], "nice": false, "zero": false}, "axis": null}, "y2": {"field": "hi"}}},
{"data": {"values": [{}]},
 "mark": {"type": "rule", "color": "black", "strokeWidth": 2, "strokeDash": [6, 3.5], "xOffset": -38, "x2Offset": 35},
 "encoding": {"x": {"datum": "cRA", "type": "nominal", "scale": {"domain":["cRA","cNC","cOA","nRA","nNC","nOA"],"paddingInner":0.1698,"paddingOuter":0.0477,"align":1}, "axis": null}, "x2": {"datum": "cOA"},
  "y": {"datum": -1.04, "type": "quantitative", "scale": {"domain": [-6, 9], "nice": false, "zero": false}, "axis": null}}},
{"data": {"values": [{}]},
 "mark": {"type": "rule", "color": "black", "strokeWidth": 2, "strokeDash": [6, 3.5], "xOffset": -33, "x2Offset": 33},
 "encoding": {"x": {"datum": "nRA", "type": "nominal", "scale": {"domain":["cRA","cNC","cOA","nRA","nNC","nOA"],"paddingInner":0.1698,"paddingOuter":0.0477,"align":1}, "axis": null}, "x2": {"datum": "nOA"},
  "y": {"datum": 0, "type": "quantitative", "scale": {"domain": [-6, 9], "nice": false, "zero": false}, "axis": null}}},
{"data": {"name": "hbr"}, "transform": [{"filter": "datum.p==3"}],
 "mark": {"type": "rule", "color": "black", "strokeWidth": 2},
 "encoding": {"x": {"field": "a", "type": "nominal", "scale": {"domain":["cRA","cNC","cOA","nRA","nNC","nOA"],"paddingInner":0.1698,"paddingOuter":0.0477,"align":1}, "axis": {"orient": "top", "labels": false, "ticks": false, "title": null, "domain": true}}, "x2": {"field": "b"},
  "y": {"field": "y", "type": "quantitative", "scale": {"domain": [-6, 9], "nice": false, "zero": false}, "axis": null}}},
{"data": {"name": "vbr"}, "transform": [{"filter": "datum.p==3"}],
 "mark": {"type": "rule", "color": "black", "strokeWidth": 2},
 "encoding": {"x": {"field": "g", "type": "nominal", "scale": {"domain":["cRA","cNC","cOA","nRA","nNC","nOA"],"paddingInner":0.1698,"paddingOuter":0.0477,"align":1}, "axis": null},
  "y": {"field": "y1", "type": "quantitative", "scale": {"domain": [-6, 9], "nice": false, "zero": false}, "axis": null}, "y2": {"field": "y2"}}},
{"data": {"name": "ptxt"}, "transform": [{"filter": "datum.p==3 && datum.g!='nRA'"}],
 "mark": {"type": "text", "fontSize": 15, "dx": -11, "baseline": "middle", "color": "black"},
 "encoding": {"x": {"field": "g", "type": "nominal", "scale": {"domain":["cRA","cNC","cOA","nRA","nNC","nOA"],"paddingInner":0.1698,"paddingOuter":0.0477,"align":1}, "axis": null},
  "y": {"field": "y", "type": "quantitative", "scale": {"domain": [-6, 9], "nice": false, "zero": false}, "axis": null}, "text": {"field": "t"}}},
{"data": {"name": "ptxt"}, "transform": [{"filter": "datum.p==3 && datum.g=='nRA'"}],
 "mark": {"type": "text", "fontSize": 15, "dx": -7.7, "baseline": "middle", "color": "black"},
 "encoding": {"x": {"field": "g", "type": "nominal", "scale": {"domain":["cRA","cNC","cOA","nRA","nNC","nOA"],"paddingInner":0.1698,"paddingOuter":0.0477,"align":1}, "axis": null},
  "y": {"field": "y", "type": "quantitative", "scale": {"domain": [-6, 9], "nice": false, "zero": false}, "axis": null}, "text": {"field": "t"}}},
{"data": {"values": [{}]},
 "mark": {"type": "text", "text": "Microarray", "fontSize": 17.5, "fontWeight": "bold", "align": "right", "baseline": "middle", "dx": 6, "color": "black"},
 "encoding": {"x": {"datum": "nOA", "type": "nominal", "scale": {"domain":["cRA","cNC","cOA","nRA","nNC","nOA"],"paddingInner":0.1698,"paddingOuter":0.0477,"align":1}, "axis": null},
  "y": {"datum": 7.6, "type": "quantitative", "scale": {"domain": [-6, 9], "nice": false, "zero": false}, "axis": null}}},
{"data": {"values": [{}]},
 "mark": {"type": "rule", "color": "black", "strokeWidth": 1.3, "yOffset": 28.5, "xOffset": -27, "x2Offset": 28.4},
 "encoding": {"x": {"datum": "cRA", "type": "nominal", "scale": {"domain":["cRA","cNC","cOA","nRA","nNC","nOA"],"paddingInner":0.1698,"paddingOuter":0.0477,"align":1}, "axis": null}, "x2": {"datum": "cOA"},
  "y": {"datum": -6, "type": "quantitative", "scale": {"domain": [-6, 9], "nice": false, "zero": false}, "axis": null}}},
{"data": {"values": [{}]},
 "mark": {"type": "rule", "color": "black", "strokeWidth": 1.3, "yOffset": 28.5, "xOffset": -26, "x2Offset": 32.2},
 "encoding": {"x": {"datum": "nRA", "type": "nominal", "scale": {"domain":["cRA","cNC","cOA","nRA","nNC","nOA"],"paddingInner":0.1698,"paddingOuter":0.0477,"align":1}, "axis": null}, "x2": {"datum": "nOA"},
  "y": {"datum": -6, "type": "quantitative", "scale": {"domain": [-6, 9], "nice": false, "zero": false}, "axis": null}}},
{"data": {"values": [{}]},
 "mark": {"type": "text", "text": "citrullinated peptide", "fontSize": 20.8, "baseline": "middle", "dx": 5.8, "dy": 46.5, "color": "black"},
 "encoding": {"x": {"datum": "cNC", "type": "nominal", "scale": {"domain":["cRA","cNC","cOA","nRA","nNC","nOA"],"paddingInner":0.1698,"paddingOuter":0.0477,"align":1}, "axis": null},
  "y": {"datum": -6, "type": "quantitative", "scale": {"domain": [-6, 9], "nice": false, "zero": false}, "axis": null}}},
{"data": {"values": [{}]},
 "mark": {"type": "text", "text": "non-citrullinated peptide", "fontSize": 20.8, "baseline": "middle", "dx": 11, "dy": 46.5, "color": "black"},
 "encoding": {"x": {"datum": "nNC", "type": "nominal", "scale": {"domain":["cRA","cNC","cOA","nRA","nNC","nOA"],"paddingInner":0.1698,"paddingOuter":0.0477,"align":1}, "axis": null},
  "y": {"datum": -6, "type": "quantitative", "scale": {"domain": [-6, 9], "nice": false, "zero": false}, "axis": null}}}
]
}
]
}
